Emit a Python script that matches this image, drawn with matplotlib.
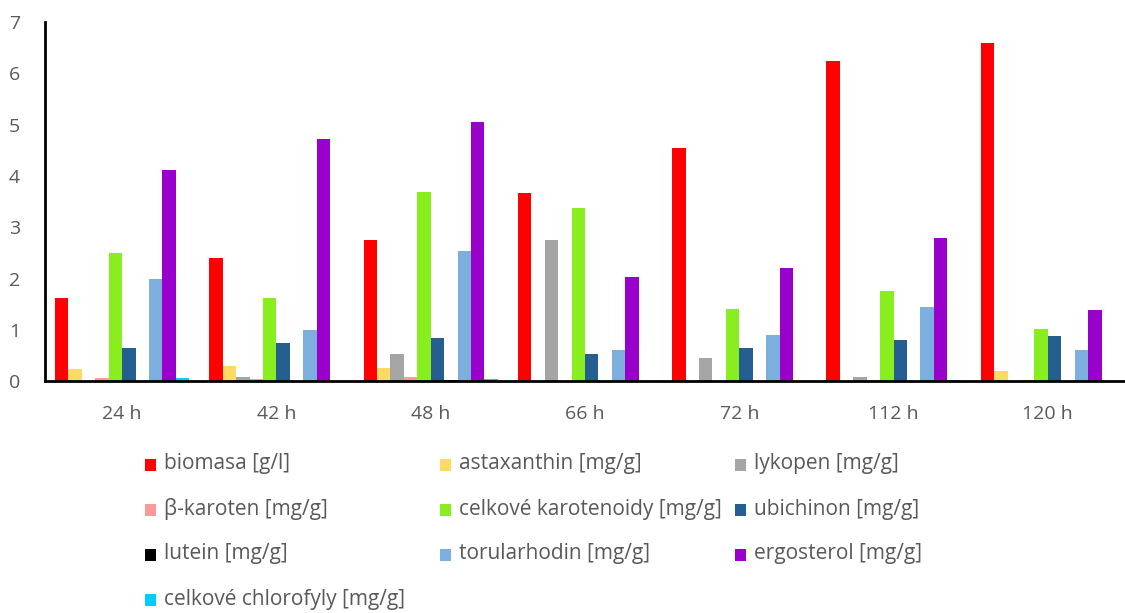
import matplotlib.pyplot as plt
import numpy as np
from matplotlib.patches import Rectangle

plt.rcParams["font.family"] = ["Open Sans", "DejaVu Sans"]

TIMES = ["24 h", "42 h", "48 h", "66 h", "72 h", "112 h", "120 h"]

LABELS = [
    "biomasa [g/l]", "astaxanthin [mg/g]", "lykopen [mg/g]",
    "β-karoten [mg/g]", "celkové karotenoidy [mg/g]", "ubichinon [mg/g]",
    "lutein [mg/g]", "torularhodin [mg/g]", "ergosterol [mg/g]",
    "celkové chlorofyly [mg/g]",
]
COLORS = ["#FF0000", "#FFD966", "#A5A5A5", "#FF9999", "#88EE1E",
          "#255E91", "#000000", "#7CAFDD", "#9900CC", "#00CCFF"]

biomasa = [1.62, 2.40, 2.75, 3.67, 4.55, 6.25, 6.60]
astaxanthin = [0.23, 0.29, 0.25, 0.0, 0.0, 0.0, 0.195]
lykopen = [0.0, 0.085, 0.54, 2.75, 0.45, 0.09, 0.0]
b_karoten = [0.06, 0.045, 0.085, 0.0, 0.0, 0.02, 0.025]
karotenoidy = [2.50, 1.63, 3.69, 3.38, 1.40, 1.75, 1.02]
ubichinon = [0.64, 0.74, 0.85, 0.54, 0.64, 0.80, 0.88]
lutein = [0.0, 0.0, 0.02, 0.0, 0.0, 0.0, 0.015]
torularhodin = [2.00, 1.00, 2.54, 0.60, 0.91, 1.45, 0.61]
ergosterol = [4.12, 4.73, 5.06, 2.03, 2.21, 2.79, 1.39]
chlorofyly = [0.065, 0.0, 0.04, 0.0, 0.0, 0.02, 0.0]

SERIES = [biomasa, astaxanthin, lykopen, b_karoten, karotenoidy,
          ubichinon, lutein, torularhodin, ergosterol, chlorofyly]

TEXT_COLOR = "#595959"


def main():
    fig = plt.figure(figsize=(11.25, 6.13), dpi=100)
    ax = fig.add_axes([0.04, 0.378, 0.96, 0.586])

    x = np.arange(len(TIMES))
    width = 0.087
    n = len(SERIES)
    for i, (vals, color) in enumerate(zip(SERIES, COLORS)):
        offset = (i - (n - 1) / 2) * width
        ax.bar(x + offset, vals, width, color=color, linewidth=0)

    ax.set_xlim(-0.5, len(TIMES) - 0.5)
    ax.set_ylim(0, 7)
    ax.set_yticks(range(8))
    ax.set_xticks(x)
    ax.set_xticklabels(TIMES)
    ax.tick_params(axis="both", length=0, labelsize=14, colors=TEXT_COLOR)
    ax.tick_params(axis="x", pad=17)
    ax.tick_params(axis="y", pad=22)
    for lbl in ax.get_yticklabels():
        lbl.set_horizontalalignment("center")

    for side in ["top", "right"]:
        ax.spines[side].set_visible(False)
    for side in ["left", "bottom"]:
        ax.spines[side].set_linewidth(2)
        ax.spines[side].set_color("black")

    # legend drawn by hand, rows filled left to right like Excel
    fig_w, fig_h = 1125, 613
    for i, (label, color) in enumerate(zip(LABELS, COLORS)):
        row, col = divmod(i, 3)
        px = 145 + col * 295
        py = 465 + row * 45
        fig.patches.append(Rectangle(
            (px / fig_w, 1 - (py + 6) / fig_h), 11 / fig_w, 12 / fig_h,
            transform=fig.transFigure, color=color, linewidth=0))
        fig.text((px + 19) / fig_w, 1 - (py - 1) / fig_h, label,
                 fontsize=15, color=TEXT_COLOR, va="center", ha="left")

    plt.savefig("out.png")


if __name__ == "__main__":
    main()
